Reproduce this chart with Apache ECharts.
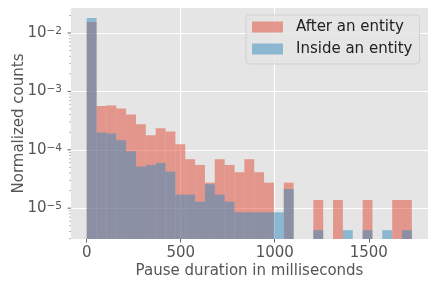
<!DOCTYPE html>
<html>
<head>
<meta charset="utf-8">
<script src="https://cdn.jsdelivr.net/npm/echarts@6/dist/echarts.min.js"></script>
<style>
html,body{margin:0;padding:0;background:#fff;}
#c{width:436px;height:289px;}
</style>
</head>
<body>
<div id="c"></div>
<script>
// Histogram bin edges (ms)
const binEdges = [0, 52.4, 104.8, 157.2, 209.6, 262, 314.4, 366.8, 419.2, 471.6, 524, 576.4,
  628.8, 681.2, 733.6, 786, 838.4, 890.8, 943.2, 995.6, 1048, 1100.4, 1152.8, 1205.2,
  1257.6, 1310, 1362.4, 1414.8, 1467.2, 1519.6, 1572, 1624.4, 1676.8, 1729.2];
// Normalized counts per bin
const afterEntity = [1.545e-2, 5.6e-4, 5.74e-4, 5.09e-4, 4.02e-4, 2.75e-4, 1.78e-4, 2.34e-4,
  2.05e-4, 1.25e-4, 6.9e-5, 5.5e-5, 2.74e-5, 6.9e-5, 5.5e-5, 4.13e-5, 6.9e-5, 4.13e-5,
  2.74e-5, 0, 2.74e-5, 0, 0, 1.38e-5, 0, 1.38e-5, 0, 0, 1.38e-5, 0, 0, 1.38e-5, 1.38e-5];
const insideEntity = [1.807e-2, 1.97e-4, 1.9e-4, 1.46e-4, 9.46e-5, 5.15e-5, 5.5e-5, 5.96e-5,
  4.23e-5, 1.71e-5, 1.71e-5, 1.29e-5, 2.57e-5, 1.71e-5, 1.29e-5, 8.5e-6, 8.5e-6, 8.5e-6,
  8.5e-6, 8.5e-6, 2.13e-5, 0, 0, 4.2e-6, 0, 0, 4.2e-6, 0, 4.2e-6, 0, 4.2e-6, 0, 4.2e-6];
const seriesNames = ['After an entity', 'Inside an entity'];
const xTickValues = [0, 500, 1000, 1500];
const yMajorTicks = [1e-5, 1e-4, 1e-3, 1e-2];

const X_MIN = -83.5, X_MAX = 1815;
const Y_MIN = Math.pow(10, -5.528), Y_MAX = Math.pow(10, -1.571);

function toBins(vals) {
  const out = [];
  vals.forEach((v, i) => { if (v > 0) out.push([binEdges[i], binEdges[i + 1], v]); });
  return out;
}
function renderBar(params, api) {
  const p0 = api.coord([api.value(0), api.value(2)]);
  const p1 = api.coord([api.value(1), Y_MIN]);
  return {
    type: 'rect',
    shape: { x: p0[0], y: p0[1], width: p1[0] - p0[0], height: p1[1] - p0[1] },
    style: api.style()
  };
}
// y tick marks (major + minor, log positions)
const yTickData = [];
for (let e = -6; e <= -1; e++) {
  for (let k = 1; k <= 9; k++) {
    const v = k * Math.pow(10, e);
    if (v >= Y_MIN && v <= Y_MAX) yTickData.push([v, k === 1 ? 1 : 0]);
  }
}
function renderYTick(params, api) {
  const p = api.coord([X_MIN, api.value(0)]);
  const major = api.value(1) === 1;
  const len = major ? 3.5 : 2;
  return {
    type: 'line',
    shape: { x1: p[0] - len, y1: p[1], x2: p[0], y2: p[1] },
    style: { stroke: major ? '#555555' : '#888888', lineWidth: major ? 0.9 : 0.6 }
  };
}

const chart = echarts.init(document.getElementById('c'), null, { renderer: 'canvas' });
const font = 'DejaVu Sans';
chart.setOption({
  animation: false,
  textStyle: { fontFamily: font },
  grid: { left: 71, right: 8, top: 8, bottom: 50, show: true, backgroundColor: '#E5E5E5', borderWidth: 0,
    containLabel: false, outerBoundsMode: 'none' },
  legend: {
    orient: 'vertical',
    left: 246, top: 15,
    data: seriesNames,
    icon: 'rect',
    itemWidth: 31, itemHeight: 11, itemGap: 6,
    padding: [4, 7, 7, 6],
    backgroundColor: 'rgba(229,229,229,0.8)',
    borderColor: 'rgba(204,204,204,0.8)', borderWidth: 1, borderRadius: 3,
    textStyle: { fontFamily: font, fontSize: 15, color: '#222', lineHeight: 16, padding: [0, 0, 0, 8] }
  },
  xAxis: {
    type: 'value', min: X_MIN, max: X_MAX,
    name: 'Pause duration in milliseconds', nameLocation: 'middle', nameGap: 25, nameMoveOverlap: false,
    nameTextStyle: { fontFamily: font, fontSize: 15, color: '#555555' },
    axisLine: { show: false },
    axisTick: { show: true, customValues: xTickValues, length: 3.5, lineStyle: { color: '#555555', width: 0.9 } },
    axisLabel: { customValues: xTickValues, fontFamily: font, fontSize: 15, color: '#555555', margin: 7,
      formatter: v => String(v) },
    splitLine: { show: true, showMinLine: false, showMaxLine: false, lineStyle: { color: '#ffffff', width: 1.2 } }
  },
  yAxis: {
    type: 'log', logBase: 10, min: Y_MIN, max: Y_MAX,
    name: 'Normalized counts', nameLocation: 'middle', nameGap: 44, nameMoveOverlap: false,
    nameTextStyle: { fontFamily: font, fontSize: 15, color: '#555555' },
    axisLine: { show: false },
    axisTick: { show: false },
    axisLabel: {
      margin: 9, fontFamily: font, color: '#555555',
      showMinLabel: false, showMaxLabel: false,
      formatter: v => {
        const l = Math.log10(v);
        const e = Math.round(l);
        if (Math.abs(l - e) > 1e-6) return '';
        return '{b|10}{s|\u2212' + Math.abs(e) + '}';
      },
      rich: {
        b: { fontFamily: font, fontSize: 15, color: '#555555', lineHeight: 15 },
        s: { fontFamily: font, fontSize: 10.5, color: '#555555', verticalAlign: 'top', lineHeight: 11 }
      }
    },
    splitLine: { show: true, showMinLine: false, showMaxLine: false, lineStyle: { color: '#ffffff', width: 1.2 } }
  },
  series: [
    {
      name: seriesNames[0], type: 'custom', renderItem: renderBar, clip: true,
      itemStyle: { color: 'rgba(226,74,51,0.5)' },
      encode: { x: [0, 1], y: 2 },
      data: toBins(afterEntity), z: 2
    },
    {
      name: seriesNames[1], type: 'custom', renderItem: renderBar, clip: true,
      itemStyle: { color: 'rgba(52,138,189,0.5)' },
      encode: { x: [0, 1], y: 2 },
      data: toBins(insideEntity), z: 3
    },
    {
      name: 'yticks', type: 'custom', renderItem: renderYTick, clip: false, silent: true,
      encode: { x: -1, y: 0 },
      data: yTickData, z: 4
    }
  ]
});
</script>
</body>
</html>
